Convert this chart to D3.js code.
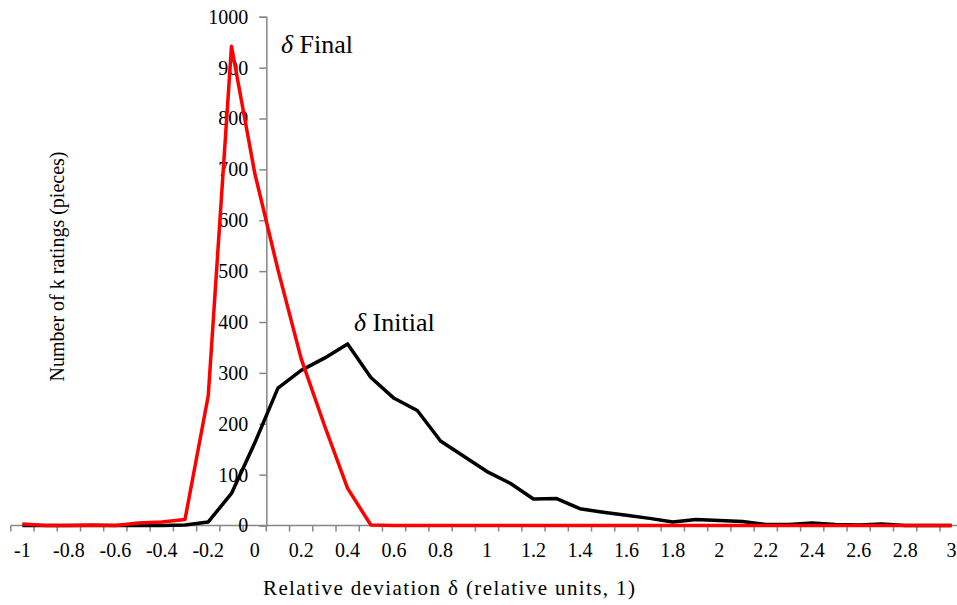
<!DOCTYPE html>
<html>
<head>
<meta charset="utf-8">
<script src="https://cdn.jsdelivr.net/npm/d3@7"></script>
<style>
  body { margin: 0; background: #fff; }
  svg text { font-family: "Liberation Serif", Tinos, "Times New Roman", Times, "DejaVu Serif", serif; }
</style>
</head>
<body>
<svg id="chart"></svg>
<script>
var width = 957;
var height = 605;

// categories (relative deviation), one every 0.1
var categories = [-1, -0.9, -0.8, -0.7, -0.6, -0.5, -0.4, -0.3, -0.2, -0.1,
  0, 0.1, 0.2, 0.3, 0.4, 0.5, 0.6, 0.7, 0.8, 0.9,
  1, 1.1, 1.2, 1.3, 1.4, 1.5, 1.6, 1.7, 1.8, 1.9,
  2, 2.1, 2.2, 2.3, 2.4, 2.5, 2.6, 2.7, 2.8, 2.9, 3];

// delta Initial (black)
var initialValues = [0, 0, 0, 0, 0, 0, 0, 1, 7, 63,
  162, 270, 305, 329, 357, 291, 250, 226, 166, 136,
  106, 83, 52, 53, 33, 26, 20, 14, 7, 12,
  10, 8, 2, 2, 5, 2, 1, 3, 0, 0, 0];

// delta Final (red)
var finalValues = [3, 0, 0, 1, 0, 5, 7, 12, 255, 942,
  693, 503, 328, 197, 73, 1, 0, 0, 0, 0,
  0, 0, 0, 0, 0, 0, 0, 0, 0, 0,
  0, 0, 0, 0, 0, 0, 0, 0, 0, 0, 0];

var xTickLabels = ["-1", "-0.8", "-0.6", "-0.4", "-0.2", "0", "0.2", "0.4", "0.6", "0.8",
  "1", "1.2", "1.4", "1.6", "1.8", "2", "2.2", "2.4", "2.6", "2.8", "3"];
var yTicks = [0, 100, 200, 300, 400, 500, 600, 700, 800, 900, 1000];

var axisColor = "#868686";
var serif = "'Liberation Serif', Tinos, 'Times New Roman', Times, 'DejaVu Serif', serif";

var svg = d3.select("#chart").attr("width", width).attr("height", height);

var x = d3.scaleBand().domain(categories).range([10.8, 963.2]).padding(0);
var y = d3.scaleLinear().domain([0, 1000]).range([525.5, 16.8]);
var cx = function(c) { return x(c) + x.bandwidth() / 2; };

// vertical axis crosses between 0 and 0.1
var yAxisX = x(0.1);

// x axis: line, ticks at category boundaries, labels every 0.2
var xAxis = svg.append("g").attr("class", "x-axis");
xAxis.append("line")
  .attr("x1", x.range()[0]).attr("x2", x.range()[1])
  .attr("y1", y(0)).attr("y2", y(0))
  .attr("stroke", axisColor).attr("stroke-width", 1.5);
xAxis.selectAll("line.tick").data(categories).enter().append("line")
  .attr("class", "tick")
  .attr("x1", function(d) { return x(d); }).attr("x2", function(d) { return x(d); })
  .attr("y1", y(0)).attr("y2", y(0) + 6)
  .attr("stroke", axisColor).attr("stroke-width", 1.5);
xAxis.selectAll("text").data(categories.filter(function(d, i) { return i % 2 == 0; })).enter().append("text")
  .attr("x", function(d) { return cx(d); })
  .attr("y", 557)
  .attr("text-anchor", "middle")
  .attr("font-family", serif)
  .attr("font-size", "20px")
  .text(function(d, i) { return xTickLabels[i]; });

// y axis
var yAxis = svg.append("g").attr("transform", "translate(" + yAxisX + ",0)")
  .call(d3.axisLeft(y).tickValues(yTicks).tickSize(7).tickPadding(11).tickFormat(d3.format("d")));
yAxis.attr("font-family", serif);
yAxis.select(".domain").attr("stroke", axisColor).attr("stroke-width", 1.5);
yAxis.selectAll(".tick line").attr("stroke", axisColor).attr("stroke-width", 1.5);
yAxis.selectAll(".tick text")
  .attr("font-family", serif)
  .attr("font-size", "20px").attr("fill", "#000");

// series
var line = d3.line()
  .x(function(d) { return cx(d.c); })
  .y(function(d) { return y(d.v); });

var initialData = categories.map(function(c, i) { return {c: c, v: initialValues[i]}; });
var finalData = categories.map(function(c, i) { return {c: c, v: finalValues[i]}; });

svg.append("path").datum(initialData)
  .attr("d", line).attr("fill", "none")
  .attr("stroke", "#000").attr("stroke-width", 3.5).attr("stroke-linejoin", "round");
svg.append("path").datum(finalData)
  .attr("d", line).attr("fill", "none")
  .attr("stroke", "#ff0000").attr("stroke-width", 3.5).attr("stroke-linejoin", "round");

// labels
var lab1 = svg.append("text").attr("x", 281).attr("y", 53).attr("font-size", "26px").attr("font-family", serif);
lab1.append("tspan").attr("font-style", "italic").text("δ");
lab1.append("tspan").text(" Final");
var lab2 = svg.append("text").attr("x", 354).attr("y", 331).attr("font-size", "26px").attr("font-family", serif);
lab2.append("tspan").attr("font-style", "italic").text("δ");
lab2.append("tspan").text(" Initial");

// axis titles
svg.append("text")
  .attr("x", 263).attr("y", 595)
  .attr("font-size", "21px").attr("font-family", serif)
  .attr("textLength", 372).attr("lengthAdjust", "spacing")
  .text("Relative deviation δ (relative units, 1)");
svg.append("text")
  .attr("transform", "translate(64,266.5) rotate(-90)")
  .attr("text-anchor", "middle").attr("font-size", "20px").attr("font-family", serif)
  .text("Number of k ratings (pieces)");
</script>
</body>
</html>
